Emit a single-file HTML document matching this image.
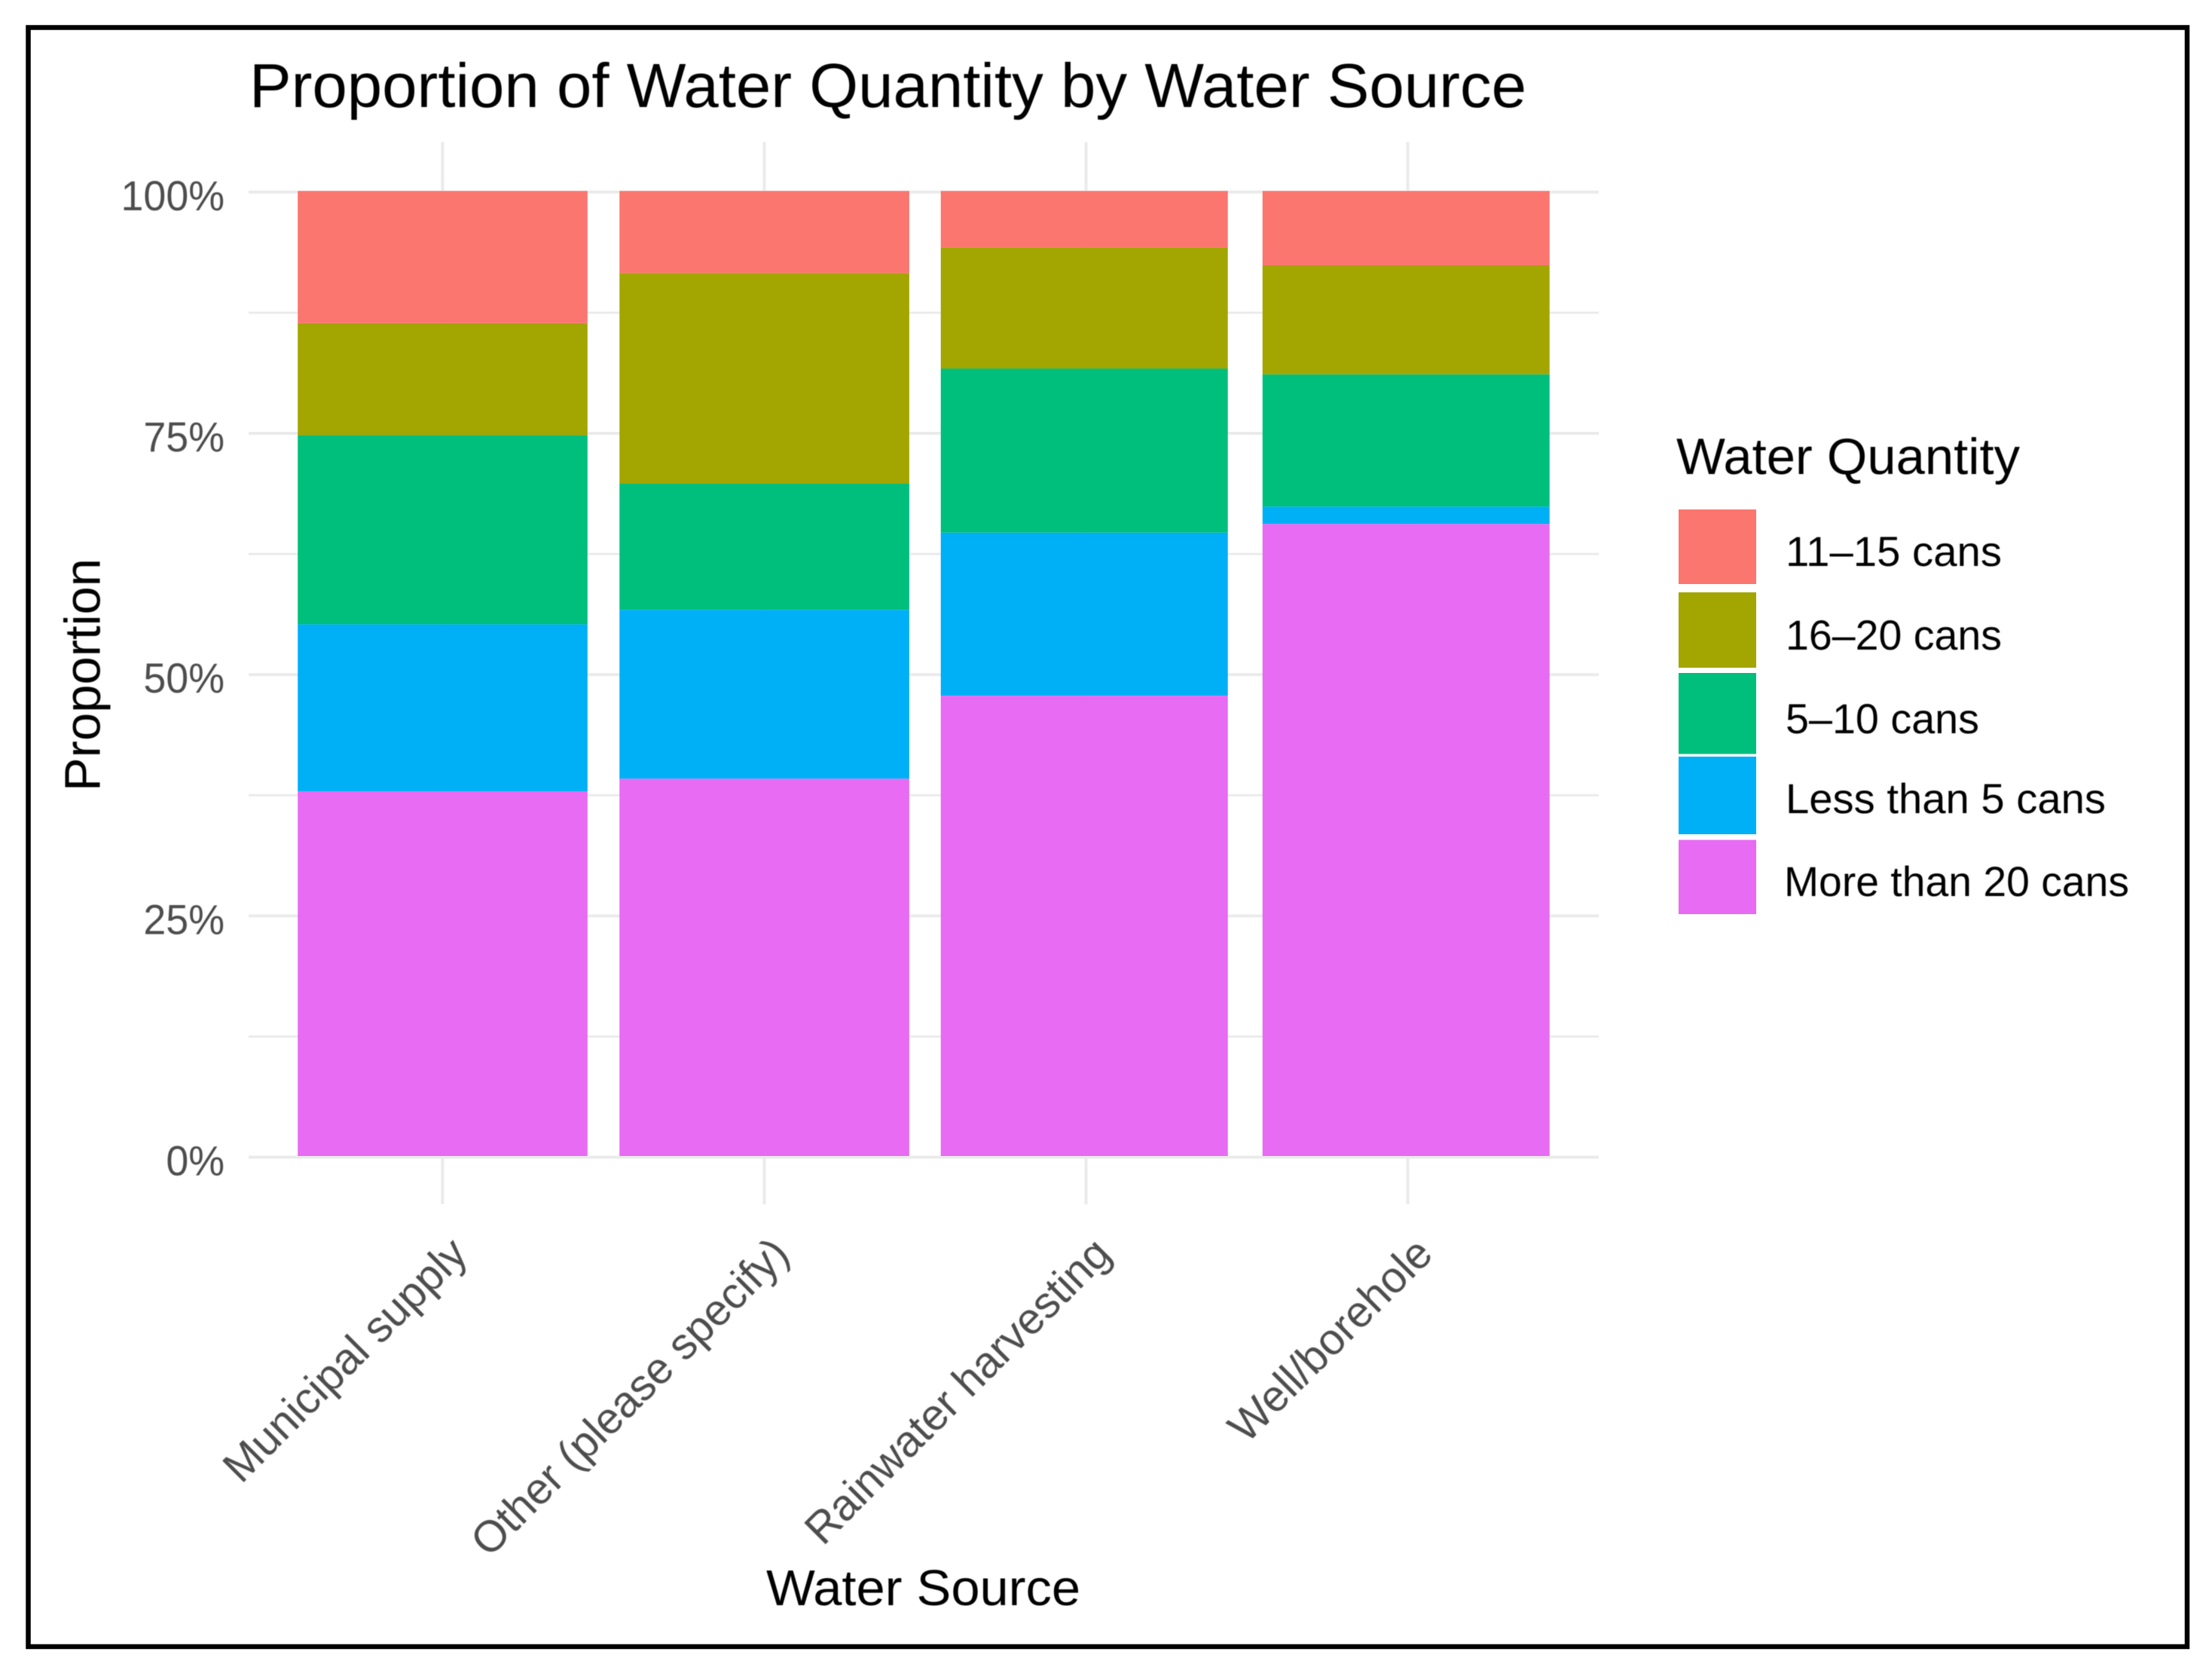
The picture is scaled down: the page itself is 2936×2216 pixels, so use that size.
<!DOCTYPE html>
<html lang="en">
<head>
<meta charset="utf-8">
<title>Proportion of Water Quantity by Water Source</title>
<style>
  html, body { margin: 0; padding: 0; background: #ffffff; }
  svg { display: block; }
  text { font-family: "Liberation Sans", Arial, sans-serif; filter: blur(0.6px); }
</style>
</head>
<body>
<svg id="chart" xmlns="http://www.w3.org/2000/svg" width="2936" height="2216" viewBox="0 0 2936 2216">
  <rect x="0" y="0" width="2936" height="2216" fill="#ffffff"/>
  <rect x="37.5" y="36.5" width="2865.5" height="2148.5" fill="none" stroke="#000000" stroke-width="6.5"/>

  <text x="331" y="142" font-size="83" fill="#000000" textLength="1695" lengthAdjust="spacingAndGlyphs">Proportion of Water Quantity by Water Source</text>
  <text transform="translate(132.5,1050) rotate(-90)" font-size="67" fill="#000000" textLength="309" lengthAdjust="spacingAndGlyphs">Proportion</text>
  <text x="1017" y="2130" font-size="67" fill="#000000" textLength="417" lengthAdjust="spacingAndGlyphs">Water Source</text>

  <g id="grid"></g>
  <g id="bars"></g>
  <g id="y-ticks"></g>
  <g id="x-ticks"></g>

  <g>
    <text x="2225" y="629" font-size="68" fill="#000000" textLength="456" lengthAdjust="spacingAndGlyphs">Water Quantity</text>

    <rect x="2228" y="676" width="103" height="99" fill="#FB766F"/>
    <text x="2370" y="751" font-size="56" fill="#000000" textLength="287" lengthAdjust="spacingAndGlyphs">11–15 cans</text>

    <rect x="2228" y="786" width="103" height="100" fill="#A3A500"/>
    <text x="2370" y="862" font-size="56" fill="#000000" textLength="287" lengthAdjust="spacingAndGlyphs">16–20 cans</text>

    <rect x="2228" y="893" width="103" height="107.5" fill="#00BF7D"/>
    <text x="2370" y="973" font-size="56" fill="#000000" textLength="257" lengthAdjust="spacingAndGlyphs">5–10 cans</text>

    <rect x="2228" y="1004" width="103" height="103" fill="#00B0F6"/>
    <text x="2370" y="1079" font-size="56" fill="#000000" textLength="425" lengthAdjust="spacingAndGlyphs">Less than 5 cans</text>

    <rect x="2228" y="1114.5" width="103" height="98.5" fill="#E76BF3"/>
    <text x="2368" y="1189" font-size="56" fill="#000000" textLength="458" lengthAdjust="spacingAndGlyphs">More than 20 cans</text>
  </g>
</svg>

<script>
// Chart data (percent of each water source)
var categories = ['Municipal supply', 'Other (please specify)', 'Rainwater harvesting', 'Well/borehole'];
var moreThan20 = [37.8, 39.1, 47.7, 65.5];
var lessThan5 = [17.3, 17.5, 16.9, 1.8];
var from5to10 = [19.6, 13.1, 17.0, 13.7];
var from16to20 = [11.6, 21.8, 12.5, 11.3];
var from11to15 = [13.7, 8.5, 5.9, 7.7];
var majorTicks = [0, 25, 50, 75, 100];
var minorTicks = [12.5, 37.5, 62.5, 87.5];
var yTickLabels = ['0%', '25%', '50%', '75%', '100%'];

var NS = 'http://www.w3.org/2000/svg';
var stackOrder = [
  { name: 'more-than-20-cans', values: moreThan20, color: '#E76BF3' },
  { name: 'less-than-5-cans', values: lessThan5, color: '#00B0F6' },
  { name: '5-10-cans', values: from5to10, color: '#00BF7D' },
  { name: '16-20-cans', values: from16to20, color: '#A3A500' },
  { name: '11-15-cans', values: from11to15, color: '#FB766F' }
];

// Axis functions
function yScale(pct) { return 1534 - pct * 12.806; }
function gridY(pct) { return yScale(pct) + 1.5; }
function xCenter(i) { return 587.4 + i * 427.05; }
function barLeft(i) { return xCenter(i) - (i < 2 ? 192.2 : 192.8); }
function barWidth(i) { return i < 2 ? 384.6 : 381; }

var gridGroup = document.getElementById('grid');
var barGroup = document.getElementById('bars');
var yTickGroup = document.getElementById('y-ticks');
var xTickGroup = document.getElementById('x-ticks');

function addLine(x1, y1, x2, y2, w) {
  var l = document.createElementNS(NS, 'line');
  l.setAttribute('x1', x1);
  l.setAttribute('y1', y1);
  l.setAttribute('x2', x2);
  l.setAttribute('y2', y2);
  l.setAttribute('stroke', '#ebebeb');
  l.setAttribute('stroke-width', w);
  gridGroup.appendChild(l);
  return l;
}

minorTicks.forEach(function (v) {
  var l = addLine(330, gridY(v), 2122, gridY(v), 3);
  
  
});
majorTicks.forEach(function (v) {
  var l = addLine(330, gridY(v), 2122, gridY(v), 4);
  
  
});
categories.forEach(function (c, i) {
  var l = addLine(xCenter(i), 188.5, xCenter(i), 1598, 4);
  
  
});

categories.forEach(function (c, i) {
  var cumulative = 0;
  stackOrder.forEach(function (s) {
    var v = s.values[i];
    var r = document.createElementNS(NS, 'rect');
    
    
    r.setAttribute('x', barLeft(i));
    r.setAttribute('y', yScale(cumulative + v));
    r.setAttribute('width', barWidth(i));
    r.setAttribute('height', yScale(cumulative) - yScale(cumulative + v));
    r.setAttribute('fill', s.color);
    barGroup.appendChild(r);
    cumulative += v;
  });
});

majorTicks.forEach(function (v, i) {
  var t = document.createElementNS(NS, 'text');
  
  
  t.setAttribute('transform', 'translate(298,' + (gridY(v) + 24) + ') scale(0.96,1)');
  t.setAttribute('text-anchor', 'end');
  t.setAttribute('font-size', '56');
  t.setAttribute('fill', '#4d4d4d');
  t.textContent = yTickLabels[i];
  yTickGroup.appendChild(t);
});

categories.forEach(function (c, i) {
  var t = document.createElementNS(NS, 'text');
  
  
  t.setAttribute('transform', 'translate(' + (xCenter(i) + 36) + ',1667) rotate(-45)');
  t.setAttribute('text-anchor', 'end');
  t.setAttribute('font-size', '58');
  t.setAttribute('fill', '#4d4d4d');
  t.textContent = c;
  xTickGroup.appendChild(t);
});
</script>
</body>
</html>
